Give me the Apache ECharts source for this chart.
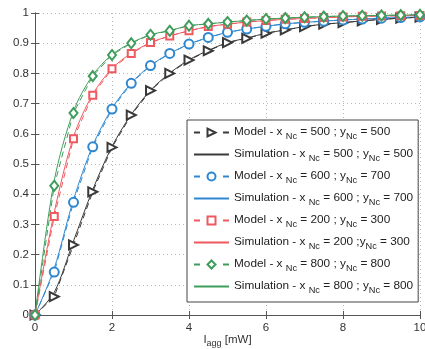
<!DOCTYPE html>
<html>
<head>
<meta charset="utf-8">
<script src="https://cdn.jsdelivr.net/npm/echarts@6/dist/echarts.min.js"></script>
<style>
  html, body { margin: 0; padding: 0; background: #fff; }
  #chart { width: 425px; height: 349px; }
</style>
</head>
<body>
<div id="chart"></div>
<script>
// I_agg in mW, one point every 0.5
var xValues = [0, 0.5, 1, 1.5, 2, 2.5, 3, 3.5, 4, 4.5, 5, 5.5, 6, 6.5, 7, 7.5, 8, 8.5, 9, 9.5, 10]

var model500 = [0, 0.061, 0.232, 0.408, 0.555, 0.662, 0.743, 0.800, 0.844, 0.875, 0.902, 0.916, 0.933, 0.944, 0.955, 0.963, 0.968, 0.974, 0.979, 0.983, 0.986]
var sim500   = [0, 0.075, 0.245, 0.415, 0.558, 0.664, 0.744, 0.801, 0.845, 0.876, 0.902, 0.917, 0.933, 0.944, 0.955, 0.963, 0.968, 0.974, 0.979, 0.983, 0.986]
var model600 = [0, 0.142, 0.373, 0.557, 0.682, 0.767, 0.826, 0.866, 0.897, 0.919, 0.936, 0.947, 0.956, 0.964, 0.969, 0.973, 0.977, 0.980, 0.983, 0.985, 0.987]
var sim600   = [0, 0.155, 0.382, 0.561, 0.684, 0.768, 0.826, 0.866, 0.897, 0.919, 0.936, 0.947, 0.956, 0.964, 0.969, 0.973, 0.977, 0.980, 0.983, 0.985, 0.987]
var model200 = [0, 0.326, 0.584, 0.728, 0.815, 0.866, 0.902, 0.924, 0.941, 0.955, 0.963, 0.970, 0.975, 0.979, 0.982, 0.985, 0.987, 0.989, 0.990, 0.991, 0.992]
var sim200   = [0, 0.340, 0.590, 0.731, 0.816, 0.867, 0.902, 0.924, 0.941, 0.955, 0.963, 0.970, 0.975, 0.979, 0.982, 0.985, 0.987, 0.989, 0.990, 0.991, 0.992]
var model800 = [0, 0.428, 0.669, 0.791, 0.861, 0.900, 0.928, 0.941, 0.958, 0.964, 0.970, 0.975, 0.980, 0.983, 0.986, 0.988, 0.990, 0.991, 0.992, 0.993, 0.994]
var sim800   = [0, 0.445, 0.675, 0.794, 0.862, 0.901, 0.928, 0.942, 0.958, 0.964, 0.970, 0.975, 0.980, 0.983, 0.986, 0.988, 0.990, 0.991, 0.992, 0.993, 0.994]

var names = [
    'Model - x Nc = 500 ; yNc = 500',
    'Simulation - x Nc = 500 ; yNc = 500',
    'Model - x Nc = 600 ; yNc = 700',
    'Simulation - x Nc = 600 ; yNc = 700',
    'Model - x Nc = 200 ; yNc = 300',
    'Simulation - x Nc = 200 ;yNc = 300',
    'Model - x Nc = 800 ; yNc = 800',
    'Simulation - x Nc = 800 ; yNc = 800'
]

var font = 'Liberation Sans, Arial, sans-serif'
var black = '#3a3a3a', blue = '#2f88cf', red = '#ee5a5f', green = '#3f9d5c'

function pairs(ys) {
    return xValues.map(function (x, i) { return [x, ys[i]] })
}

function model(name, ys, color, symbol, size, rot) {
    return {
        name: name, type: 'line', data: pairs(ys),
        symbol: symbol, symbolSize: size, symbolRotate: rot || 0,
        showSymbol: true,
        itemStyle: { color: color, borderWidth: 1 },
        lineStyle: { color: color, width: 1, type: [6, 4] },
        z: 3
    }
}
function sim(name, ys, color) {
    return {
        name: name, type: 'line', data: pairs(ys), smooth: 0.3,
        symbol: 'circle', showSymbol: false,
        itemStyle: { color: color },
        lineStyle: { color: color, width: 1 },
        z: 2
    }
}

var chart = echarts.init(document.getElementById('chart'))

var gridLine = { show: true, lineStyle: { color: '#b8b8b8', type: [1, 3], width: 1 } }
var axLine = { show: true, lineStyle: { color: '#555', width: 1 } }
var ticks = { inside: true, length: 4, lineStyle: { color: '#555' } }

var option = {
    animation: false,
    textStyle: { fontFamily: font },
    grid: { left: 35, right: 5, top: 13, bottom: 34, containLabel: false, outerBoundsMode: 'none' },
    xAxis: [{
        type: 'value', min: 0, max: 10, interval: 2,
        name: 'I{s|agg} [mW]', nameLocation: 'middle', nameGap: 17,
        nameMoveOverlap: false,
        nameTextStyle: {
            fontSize: 11.5, color: '#333', fontFamily: font, verticalAlign: 'top',
            rich: { s: { fontSize: 9, padding: [7, 0, 0, 0], fontFamily: font, color: '#333' } }
        },
        axisLine: axLine,
        axisTick: ticks,
        axisLabel: { fontSize: 11.5, color: '#333', margin: 7 },
        splitLine: gridLine
    }, {
        type: 'value', min: 0, max: 10, interval: 2, position: 'top',
        axisLine: axLine,
        axisTick: ticks,
        axisLabel: { show: false },
        splitLine: { show: false }
    }],
    yAxis: [{
        type: 'value', min: 0, max: 1, interval: 0.1,
        name: 'CDF', nameLocation: 'middle', nameGap: 24,
        nameTextStyle: { fontSize: 11.5, color: '#333' },
        axisLine: axLine,
        axisTick: ticks,
        axisLabel: { fontSize: 11.5, color: '#333', margin: 6 },
        splitLine: gridLine
    }, {
        type: 'value', min: 0, max: 1, interval: 0.1, position: 'right',
        axisLine: axLine,
        axisTick: ticks,
        axisLabel: { show: false },
        splitLine: { show: false }
    }],
    legend: {
        orient: 'vertical', left: 187, top: 120,
        backgroundColor: '#fff', borderColor: '#444', borderWidth: 1,
        padding: [6, 5, 7, 6],
        itemWidth: 35, itemHeight: 10, itemGap: 7,
        data: names.map(function (n, i) {
            return i % 2 === 0
                ? { name: n, lineStyle: { type: [6, 23] } }
                : { name: n, itemStyle: { opacity: 0 } }
        }),
        formatter: function (n) {
            return '{a|' + n.replace(/Nc/g, '}{s|Nc}{a|') + '}'
        },
        textStyle: {
            rich: {
                a: { fontSize: 11.8, color: '#222', fontFamily: font, lineHeight: 13, verticalAlign: 'top' },
                s: { fontSize: 9.2, color: '#222', fontFamily: font, lineHeight: 9, padding: [6, 0, 0, 0], verticalAlign: 'top' }
            }
        }
    },
    series: [
        model(names[0], model500, black, 'emptyTriangle', 9, -90),
        sim(names[1], sim500, black),
        model(names[2], model600, blue, 'emptyCircle', 9),
        sim(names[3], sim600, blue),
        model(names[4], model200, red, 'emptyRect', 7),
        sim(names[5], sim200, red),
        model(names[6], model800, green, 'emptyDiamond', [8, 10]),
        sim(names[7], sim800, green)
    ]
}

chart.setOption(option)
</script>
</body>
</html>
